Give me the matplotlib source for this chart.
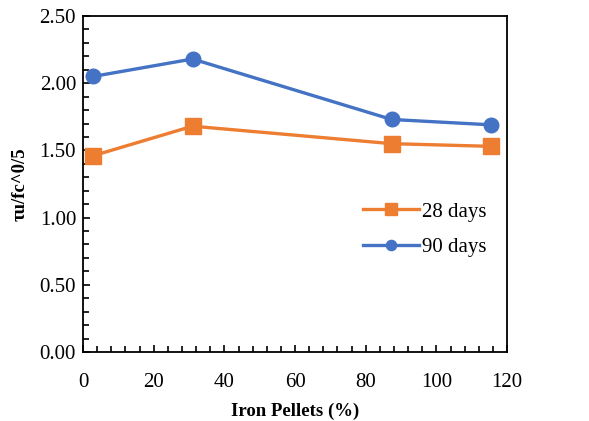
import matplotlib
matplotlib.use("Agg")
import matplotlib.pyplot as plt
from matplotlib.ticker import MultipleLocator, FormatStrFormatter

pellets = [0, 25, 75, 100]
days28 = [1.46, 1.68, 1.55, 1.53]
days90 = [2.05, 2.18, 1.73, 1.69]

plt.rcParams['font.family'] = ['Liberation Serif', 'DejaVu Serif']

fig = plt.figure(figsize=(5.89, 4.21), dpi=100)
ax = fig.add_axes([0.141, 0.164, 0.72, 0.798])

# the series sit on their own (category-like) x scale, as in the original sheet
ax2 = ax.twiny()
ax2.set_xlim(-2.5, 104)
ax2.axis('off')

ax2.plot(pellets, days28, color='#ED7D31', lw=2.4, marker='s', ms=12, label='28 days')
ax2.plot(pellets, days90, color='#4472C4', lw=2.4, marker='o', ms=10.5, label='90 days')

ax.set_xlim(0, 120)
ax.set_ylim(0, 2.5)
ax.xaxis.set_major_locator(MultipleLocator(20))
ax.xaxis.set_minor_locator(MultipleLocator(4))
ax.yaxis.set_major_locator(MultipleLocator(0.5))
ax.yaxis.set_minor_locator(MultipleLocator(0.1))
ax.yaxis.set_major_formatter(FormatStrFormatter('%.2f'))
ax.tick_params(which='both', direction='in', labelsize=15, width=1.2, color='black')
ax.tick_params(which='major', length=5)
ax.tick_params(which='minor', length=4)
ax.tick_params(axis='x', pad=15)
ax.tick_params(axis='y', pad=5)
for s in ax.spines.values():
    s.set_linewidth(1.3)

ax.set_xlabel('Iron Pellets (%)', fontsize=13.5, fontweight='bold', labelpad=8)
ax.set_ylabel('τu/fc^0/5', fontsize=13.5, fontweight='bold', labelpad=8)

ax2.legend(loc='center left', bbox_to_anchor=(0.585, 0.455), bbox_transform=fig.transFigure,
           frameon=False, fontsize=15, handlelength=2.65, labelspacing=0.75,
           handletextpad=0.15, markerscale=0.7)

fig.savefig('out.png', dpi=100)
